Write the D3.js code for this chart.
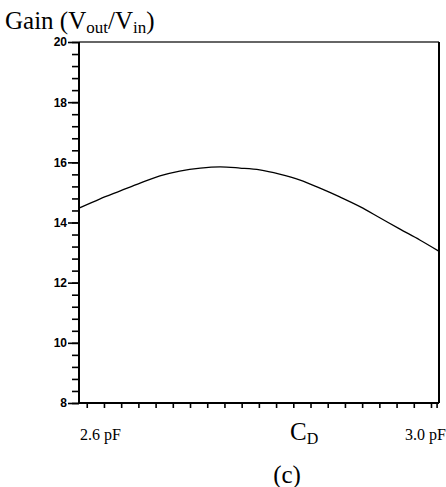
<!DOCTYPE html>
<html>
<head>
<meta charset="utf-8">
<script src="https://cdnjs.cloudflare.com/ajax/libs/d3/7.8.5/d3.min.js"></script>
<style>
  body { margin: 0; background: #fff; }
  svg { display: block; }
</style>
</head>
<body>
<div id="chart"></div>
<script>
var width = 446;
var height = 487;

// Data (C_D in pF, gain)
var capValues  = [2.591, 2.615, 2.639, 2.662, 2.685, 2.708, 2.732, 2.755, 2.778, 2.801, 2.824, 2.848, 2.871, 2.894, 2.918, 2.941, 2.964, 2.987, 3.009];
var gainValues = [14.48, 14.78, 15.05, 15.31, 15.55, 15.71, 15.81, 15.85, 15.81, 15.75, 15.61, 15.41, 15.14, 14.85, 14.52, 14.15, 13.78, 13.42, 13.05];
var yTickLabels = [8, 10, 12, 14, 16, 18, 20];
var xEndLabels = ["2.6 pF", "3.0 pF"];

var margin = {left: 79, right: 7, top: 42, bottom: 84};

var svg = d3.select("#chart")
    .append("svg")
    .attr("width", width)
    .attr("height", height);

// Scales
var x = d3.scaleLinear()
    .domain([2.591, 3.0093])
    .range([margin.left, width - margin.right]);

var y = d3.scaleLinear()
    .domain([8, 20])
    .range([height - margin.bottom, margin.top]);

// Minor ticks every 0.4, majors every 2
var yMinor = d3.range(8, 20.001, 0.4);
var xMinor = d3.range(0, 21).map(function(i) { return 2.6 + i * 0.02; }).concat([3.0065]);

svg.append("g")
    .attr("transform", "translate(" + margin.left + ",0)")
    .call(d3.axisLeft(y).tickValues(yMinor).tickSize(7).tickFormat(""))
    .call(function(g) {
        g.select(".domain").remove();
        g.selectAll("line").attr("stroke", "#000").attr("stroke-width", 1.6);
    });

svg.append("g")
    .attr("class", "ymajor")
    .attr("transform", "translate(" + margin.left + ",0)")
    .call(d3.axisLeft(y).tickValues(yTickLabels).tickSize(11).tickPadding(1).tickFormat(d3.format("d")))
    .call(function(g) {
        g.select(".domain").remove();
        g.selectAll("line").attr("stroke", "#000").attr("stroke-width", 1.6);
        g.selectAll("text")
            .attr("font-family", "Liberation Sans, Arial, sans-serif")
            .attr("font-size", 12)
            .attr("font-weight", "bold")
            .attr("fill", "#000");
    });

svg.append("g")
    .attr("transform", "translate(0," + (height - margin.bottom) + ")")
    .call(d3.axisBottom(x).tickValues(xMinor).tickSize(5).tickFormat(""))
    .call(function(g) {
        g.select(".domain").remove();
        g.selectAll("line").attr("stroke", "#000").attr("stroke-width", 1.6);
    });

// Frame
var x0 = x.range()[0], x1 = x.range()[1], y0 = y.range()[0], y1 = y.range()[1];
svg.append("line").attr("x1", x0).attr("x2", x1).attr("y1", y1).attr("y2", y1)
    .attr("stroke", "#666").attr("stroke-width", 2);
svg.append("line").attr("x1", x0).attr("x2", x1).attr("y1", y0).attr("y2", y0)
    .attr("stroke", "#000").attr("stroke-width", 2);
svg.append("line").attr("x1", x0).attr("x2", x0).attr("y1", y1).attr("y2", y0)
    .attr("stroke", "#000").attr("stroke-width", 2);
svg.append("line").attr("x1", x1).attr("x2", x1).attr("y1", y1).attr("y2", y0)
    .attr("stroke", "#000").attr("stroke-width", 2);

// Curve
var line = d3.line()
    .x(function(d, i) { return x(capValues[i]); })
    .y(function(d) { return y(d); })
    .curve(d3.curveMonotoneX);

svg.append("path")
    .datum(gainValues)
    .attr("fill", "none")
    .attr("stroke", "#000")
    .attr("stroke-width", 1.3)
    .attr("d", line);

// Texts
var serif = "Liberation Serif, Times New Roman, serif";

var title = svg.append("text")
    .attr("x", 5)
    .attr("y", 29)
    .attr("font-family", serif)
    .attr("font-size", 25)
    .attr("fill", "#000");
title.append("tspan").text("Gain (V");
title.append("tspan").attr("font-size", 17).attr("dy", 4).text("out");
title.append("tspan").attr("dy", -4).text("/V");
title.append("tspan").attr("font-size", 17).attr("dy", 4).text("in");
title.append("tspan").attr("dy", -4).text(")");

svg.append("text")
    .attr("x", 80).attr("y", 440)
    .attr("font-family", serif).attr("font-size", 16)
    .text(xEndLabels[0]);

svg.append("text")
    .attr("x", 446).attr("y", 440)
    .attr("text-anchor", "end")
    .attr("font-family", serif).attr("font-size", 16)
    .text(xEndLabels[1]);

var cd = svg.append("text")
    .attr("x", 290).attr("y", 440)
    .attr("font-family", serif).attr("font-size", 25);
cd.append("tspan").text("C");
cd.append("tspan").attr("font-size", 16).attr("dy", 4).text("D");

svg.append("text")
    .attr("x", 287).attr("y", 483)
    .attr("text-anchor", "middle")
    .attr("font-family", serif).attr("font-size", 25)
    .text("(c)");
</script>
</body>
</html>
